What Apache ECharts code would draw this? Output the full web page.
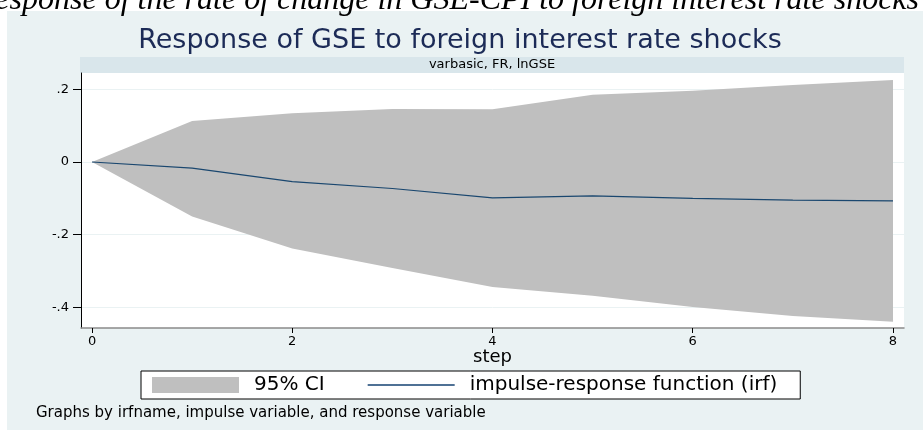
<!DOCTYPE html>
<html>
<head>
<meta charset="utf-8">
<script src="https://cdn.jsdelivr.net/npm/echarts@6/dist/echarts.min.js"></script>
<style>
  html, body { margin: 0; padding: 0; background: #fff; }
  #chart { width: 923px; height: 430px; }
</style>
</head>
<body>
<div id="chart"></div>
<script>
// impulse-response of lnGSE to FR
const steps = [0, 1, 2, 3, 4, 5, 6, 7, 8];
const irf = [0, -0.017, -0.054, -0.073, -0.099, -0.093, -0.100, -0.105, -0.107];
const ciUpper = [0, 0.113, 0.134, 0.146, 0.145, 0.185, 0.196, 0.212, 0.226];
const ciLower = [0, -0.150, -0.238, -0.292, -0.344, -0.368, -0.399, -0.424, -0.440];

const xTicks = [0, 2, 4, 6, 8];
const yTicks = [-0.4, -0.2, 0, 0.2];
const yTickLabels = ['-.4', '-.2', '0', '.2'];

const font = 'DejaVu Sans';
const chart = echarts.init(document.getElementById('chart'));

// band between lower and upper CI, drawn as one polygon through the axes
const renderBand = (params, api) => {
  const top = steps.map((s, i) => api.coord([s, ciUpper[i]]));
  const bottom = steps.map((s, i) => api.coord([s, ciLower[i]])).reverse();
  return {
    type: 'polygon',
    shape: { points: top.concat(bottom) },
    style: { fill: '#bfbfbf' }
  };
};

const option = {
  animation: false,
  backgroundColor: '#fff',
  textStyle: { fontFamily: font },
  graphic: [
    // outer graph region
    { type: 'rect', z: -10, shape: { x: 7, y: 11, width: 916, height: 419 }, style: { fill: '#eaf2f3' } },
    // by-group label band
    { type: 'rect', z: -5, shape: { x: 80, y: 57, width: 824, height: 16 }, style: { fill: '#d9e6eb' } },
    {
      type: 'text', z: 50, x: 492, y: 65,
      style: { text: 'varbasic, FR, lnGSE', fill: '#000', font: '13px "DejaVu Sans"', align: 'center', verticalAlign: 'middle' }
    },
    {
      type: 'text', z: 50, x: 919, y: -15,
      style: {
        text: 'Response of the rate of change in GSE-CPI to foreign interest rate shocks',
        fill: '#000', font: 'italic 32px "Liberation Serif"', align: 'right', verticalAlign: 'top'
      }
    },
    {
      type: 'text', z: 50, x: 36, y: 413,
      style: { text: 'Graphs by irfname, impulse variable, and response variable', fill: '#000', font: '15px "DejaVu Sans"', verticalAlign: 'middle' }
    }
  ],
  title: {
    text: 'Response of GSE to foreign interest rate shocks',
    left: 455,
    textAlign: 'center',
    top: 22,
    textStyle: { fontFamily: font, fontSize: 27, fontWeight: 'normal', color: '#1c2b57' }
  },
  legend: {
    left: 141,
    top: 371,
    orient: 'horizontal',
    padding: [4, 23, 4, 11],
    itemWidth: 87,
    itemHeight: 16,
    itemGap: 43,
    backgroundColor: '#fff',
    borderColor: '#000',
    borderWidth: 1,
    borderRadius: 0,
    selectedMode: false,
    textStyle: { fontFamily: font, fontSize: 20, color: '#000', padding: [0, 0, 0, 10] },
    data: [
      { name: '95% CI', icon: 'rect', itemStyle: { color: '#bfbfbf' } },
      {
        name: 'impulse-response function (irf)',
        icon: 'path://M0,0L0.1,0L0,0Z M0,16L0.1,16L0,16Z M0,7.1L87,7.1L87,8.9L0,8.9Z',
        itemStyle: { color: '#4f7195' }
      }
    ]
  },
  grid: {
    left: 81, right: 19, top: 73, bottom: 102,
    containLabel: false,
    show: true, backgroundColor: '#fff', borderWidth: 0
  },
  xAxis: {
    type: 'value',
    min: -0.11,
    max: 8.11,
    name: 'step',
    nameLocation: 'middle',
    nameGap: 20,
    nameMoveOverlap: false,
    nameTextStyle: { fontFamily: font, fontSize: 18, color: '#000' },
    axisLine: { show: true, onZero: false, lineStyle: { color: '#8a8a8a', width: 1.5 } },
    axisTick: { show: true, customValues: xTicks, length: 5, lineStyle: { color: '#000' } },
    axisLabel: { customValues: xTicks, color: '#000', fontSize: 13, margin: 7, fontFamily: font },
    splitLine: { show: false }
  },
  yAxis: {
    type: 'value',
    min: -0.457,
    max: 0.245,
    axisLine: { show: true, onZero: false, lineStyle: { color: '#000', width: 1 } },
    axisTick: { show: true, customValues: yTicks, length: 8, lineStyle: { color: '#000' } },
    axisLabel: {
      customValues: yTicks, color: '#000', fontSize: 13, margin: 12, fontFamily: font,
      formatter: v => {
        const i = yTicks.findIndex(t => Math.abs(t - v) < 1e-9);
        return i >= 0 ? yTickLabels[i] : '';
      }
    },
    splitLine: { show: true, lineStyle: { color: '#eaf2f3', width: 1 } }
  },
  series: [
    {
      name: '95% CI',
      type: 'custom',
      silent: true,
      itemStyle: { color: '#bfbfbf' },
      renderItem: renderBand,
      data: [[0, 0]]
    },
    {
      name: 'impulse-response function (irf)',
      type: 'line',
      symbol: 'none',
      itemStyle: { color: '#1a476f' },
      lineStyle: { color: '#1a476f', width: 1.2 },
      data: steps.map((s, i) => [s, irf[i]])
    }
  ]
};

chart.setOption(option);
</script>
</body>
</html>
